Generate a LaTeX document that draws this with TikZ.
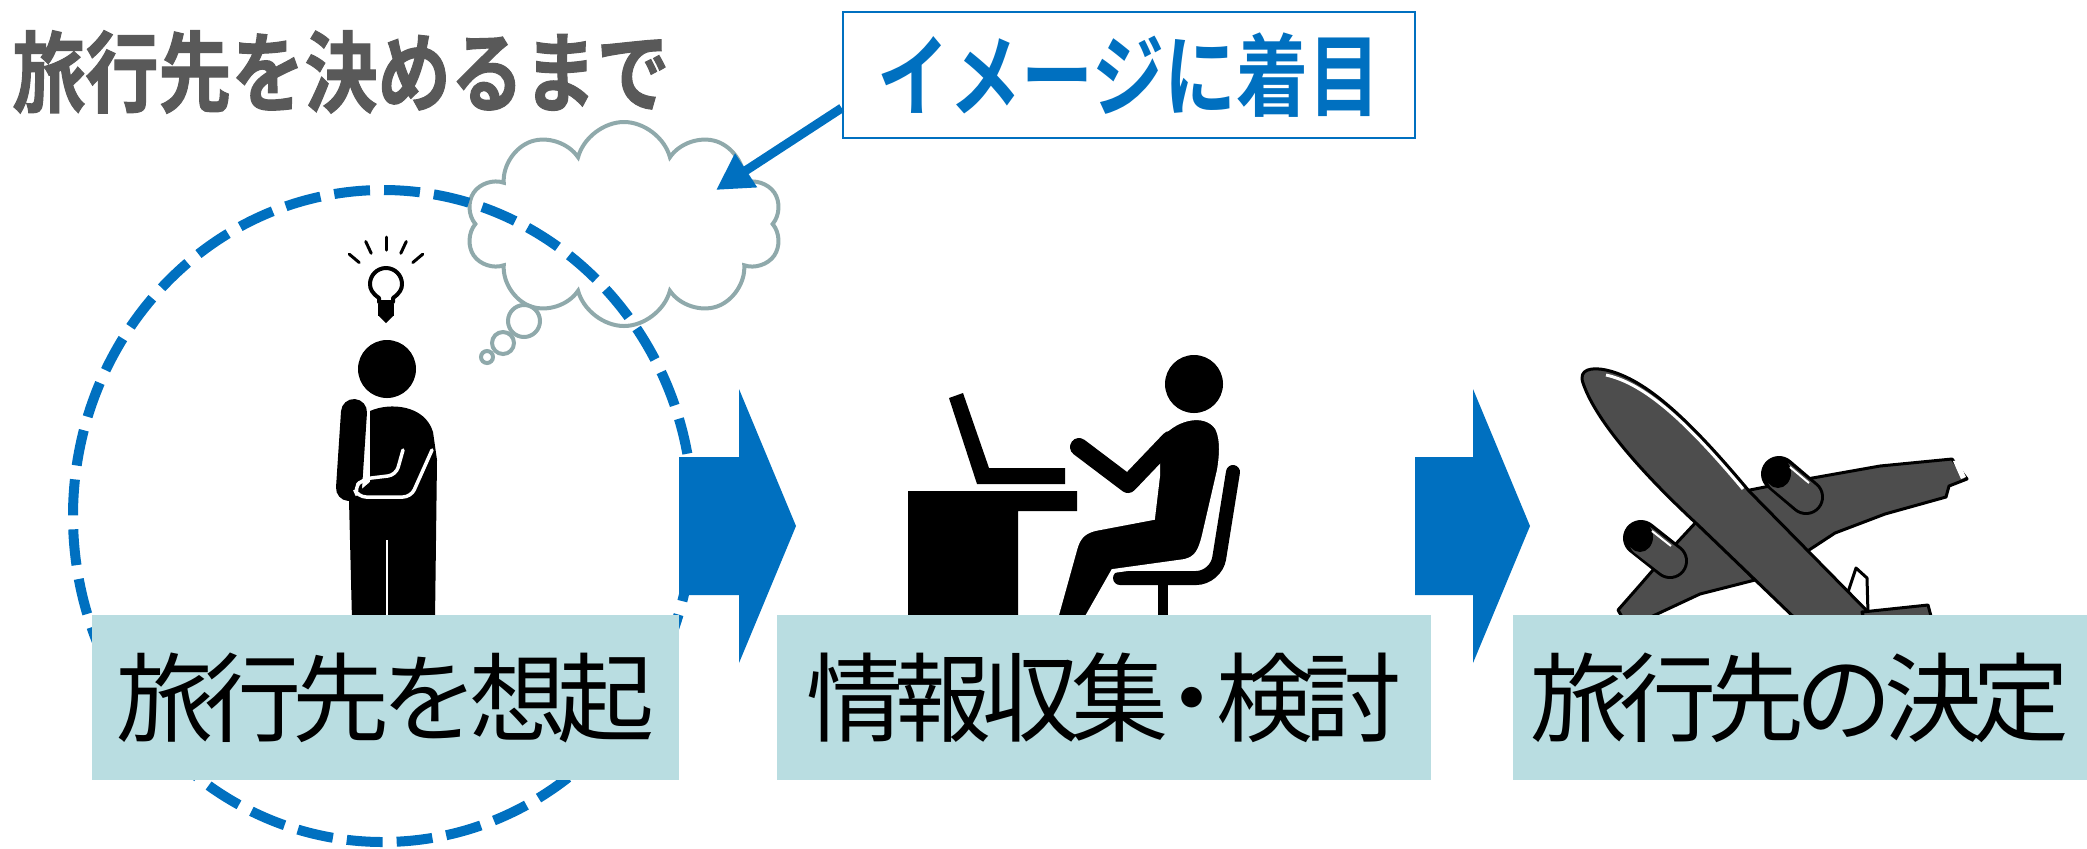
\documentclass[tikz,border=0pt]{standalone}
\usepackage{fontspec}
\usetikzlibrary{shapes.symbols,arrows.meta,calc}
\newfontfamily\jp{Noto Sans CJK JP}[BoldFont={Noto Sans CJK JP Bold}]
\definecolor{flowblue}{HTML}{0070C0}
\definecolor{labelfill}{HTML}{B9DDE1}
\definecolor{titlegray}{HTML}{595959}
\definecolor{cloudline}{HTML}{8FA9AB}
\definecolor{planegray}{HTML}{4D4D4D}

\begin{document}
\begin{tikzpicture}[x=0.5pt,y=-0.5pt,
  labelbox/.style={rectangle, fill=labelfill, inner sep=0pt, minimum height=82.5pt,
    font=\jp\fontsize{48.5}{55}\selectfont\addfontfeatures{LetterSpace=-9}},
  blockarrow/.style={fill=flowblue},
  bubble/.style={draw=cloudline, line width=2pt, fill=white},
  planepart/.style={fill=planegray, draw=black, line width=1.5pt, line join=round},
]
\useasboundingbox (0,0) rectangle (2087,848);

% ---- thought cloud with its trail of bubbles ----
\node[cloud, bubble, cloud puffs=10, aspect=1.55, inner sep=0pt,
      minimum width=158pt, minimum height=102pt] (cloud) at (624,224) {};
\node[circle, bubble, inner sep=0pt, minimum size=16pt] (bubbleA) at (524,321) {};
\node[circle, bubble, inner sep=0pt, minimum size=11pt] (bubbleB) at (503,343) {};
\node[circle, bubble, inner sep=0pt, minimum size=6pt]  (bubbleC) at (487,357) {};

% ---- dashed ring round the first step ----
\draw[flowblue, line width=5pt, dash pattern=on 18pt off 7pt]
  (383,516) ellipse [x radius=310, y radius=326];

% ---- light bulb with rays ----
\foreach \a in {-140,-115,-90,-65,-40}
  \draw[line width=1.5pt, line cap=round]
    ([shift={(386,285)}]\a:35) -- ([shift={(386,285)}]\a:48);
\draw[line width=2pt, fill=white, line join=round]
  (379,302) -- (379,298) .. controls (372,293) and (370,289) .. (370,284)
  arc[start angle=180, end angle=360, radius=16]
  .. controls (402,289) and (400,293) .. (393,298) -- (393,302) -- cycle;
\fill (378,304) rectangle (394,316);
\fill (379,316) -- (393,316) -- (386,323) -- cycle;

% ---- thinking person ----
\fill (387,369) circle[radius=29];
\fill (370,411) .. controls (390,402) and (425,405) .. (433,432)
  -- (437,460) -- (435,620) -- (352,620) -- (349,500) -- (370,482) -- cycle;
\draw[line width=13pt, line cap=round] (354,412) -- (349,488);
\draw[white, line width=1.75pt, line cap=round, rounded corners=4pt]
  (403,450) -- (396,475) -- (363,479) -- (354,488) -- (358,497) -- (411,497) -- (432,450);
\draw[white, line width=1pt] (387,540) -- (387,620);

% ---- desk, laptop and seated person ----
\fill (949,398) -- (963,393) -- (989,468) -- (1065,468) -- (1065,484) -- (977,484) -- cycle;
\fill (908,491) -- (1077,491) -- (1077,511) -- (1018,511) -- (1018,620) -- (908,620) -- cycle;
\draw[line width=7pt, line cap=round, rounded corners=10pt]
  (1233,472) -- (1216,578) -- (1120,578);
\fill (1158,580) rectangle (1168,620);
\filldraw[fill=black, draw=white, line width=2pt]
  (1158,440) .. controls (1172,418) and (1205,410) .. (1217,428)
  .. controls (1223,440) and (1221,458) .. (1219,470) -- (1204,535)
  .. controls (1200,552) and (1196,558) .. (1185,561)
  -- (1113,571) -- (1084,622) -- (1055,622) -- (1075,550)
  .. controls (1078,538) and (1083,532) .. (1095,529)
  -- (1153,518) -- (1158,476) -- cycle;
\draw[line width=9pt, line cap=round, line join=round]
  (1079,447) -- (1128,484) -- (1170,440);
\fill (1194,384) ellipse[x radius=29, y radius=29];

% ---- aeroplane ----
\filldraw[fill=white, draw=black, line width=1.5pt, line join=round]
  (1848,592) -- (1856,568) -- (1867,578) -- (1868,614) -- cycle;
\filldraw[planepart]
  (1740,492) -- (1790,482) -- (1880,466) -- (1952,459) -- (1967,479) -- (1949,486)
  -- (1946,497) -- (1885,514) -- (1835,533) -- (1806,552) -- cycle;
\fill[white] (1953,461) -- (1958,460) -- (1966,477) -- (1961,479) -- cycle;
\draw[line width=18pt, line cap=round] (1779,474) -- (1806,497);
\draw[planegray, line width=15pt, line cap=round] (1782,477) -- (1806,497);
\fill (1778,473) ellipse[x radius=13, y radius=15];
\draw[white, line width=1pt] (1790,467) -- (1809,483);
\filldraw[planepart]
  (1698,520) -- (1672,548) -- (1640,585) -- (1618,610) -- (1625,622) -- (1640,622)
  -- (1700,594) -- (1755,580) -- cycle;
\draw[line width=18pt, line cap=round] (1641,538) -- (1670,561);
\draw[planegray, line width=15pt, line cap=round] (1644,541) -- (1670,561);
\fill (1640,537) ellipse[x radius=13, y radius=15];
\draw[white, line width=1pt] (1652,531) -- (1671,546);
\filldraw[planepart]
  (1583,383) .. controls (1578,369) and (1592,367) .. (1606,370)
  .. controls (1647,379) and (1692,423) .. (1749,491) -- (1874,618) -- (1892,650)
  -- (1828,650) -- (1698,525) .. controls (1646,477) and (1596,422) .. (1583,383) -- cycle;
\draw[white, line width=1.5pt]
  (1606,375) .. controls (1647,384) and (1690,426) .. (1743,489);
\filldraw[planepart] (1862,612) -- (1928,605) -- (1932,620) -- (1866,626) -- cycle;

% ---- block arrows between the steps ----
\fill[blockarrow] (679,457) -- (739,457) -- (739,389) -- (796,526) -- (739,663)
  -- (739,595) -- (679,595) -- cycle;
\fill[blockarrow] (1415,457) -- (1473,457) -- (1473,389) -- (1530,526) -- (1473,663)
  -- (1473,595) -- (1415,595) -- cycle;

% ---- step labels ----
\node[labelbox, minimum width=293.5pt] (recall) at (385.5,697.5) {旅行先を想起};
\node[labelbox, minimum width=327pt] (research) at (1104,697.5)
  {情報収集\makebox[0.5em][c]{・}検討};
\node[labelbox, minimum width=287pt] (decide) at (1800,697.5) {旅行先の決定};

% ---- heading and call-out ----
\node[anchor=west, inner sep=0pt, text=titlegray,
      font=\jp\bfseries\fontsize{44}{48}\selectfont\addfontfeatures{FakeStretch=0.83,FakeBold=1.2}]
  (title) at (12,72) {旅行先を決めるまで};
\node[draw=flowblue, line width=1.3pt, minimum width=286pt, minimum height=63pt,
      inner sep=0pt, text=flowblue,
      font=\jp\bfseries\fontsize{45}{50}\selectfont\addfontfeatures{FakeStretch=0.8}]
  (imgbox) at (1129,75) {イメージに着目};
\coordinate (pointtip) at (716,190);
\draw[flowblue, line width=4.5pt, -{Triangle[length=18pt,width=19pt]}]
  ($(imgbox.west)+(0,33)$) -- (pointtip);
\end{tikzpicture}
\end{document}
